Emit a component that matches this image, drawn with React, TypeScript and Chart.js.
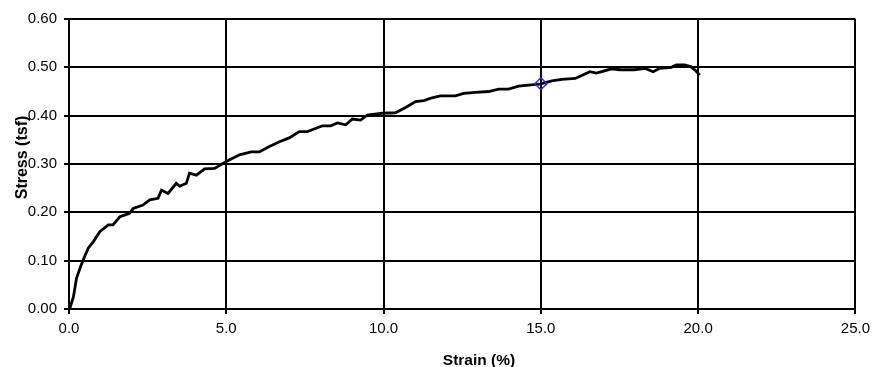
import React, { useEffect, useRef } from 'react';
import { Chart, registerables } from 'chart.js';

Chart.register(...registerables);

const FONT = '"Liberation Sans", Arial, Helvetica, sans-serif';

const strain = [
  0, 0.03, 0.14, 0.24, 0.37, 0.48, 0.61, 0.77, 0.98, 1.25, 1.4, 1.62, 1.93, 2.04, 2.35, 2.57,
  2.83, 2.94, 3.15, 3.41, 3.52, 3.73, 3.83, 4.05, 4.31, 4.63, 5.0, 5.42, 5.79, 6.05, 6.37, 6.69,
  7.0, 7.32, 7.58, 8.06, 8.32, 8.53, 8.8, 9.01, 9.27, 9.48, 9.96, 10.38, 10.7, 11.02, 11.28, 11.54,
  11.81, 12.28, 12.55, 12.92, 13.34, 13.66, 13.97, 14.29, 14.61, 15.0, 15.35, 15.66, 16.09, 16.3,
  16.56, 16.77, 17.25, 17.51, 17.99, 18.3, 18.57, 18.78, 19.15, 19.31, 19.57, 19.78, 19.94, 20.05,
];

const stress = [
  0, 0.002, 0.025, 0.064, 0.088, 0.106, 0.126, 0.139, 0.16, 0.174, 0.174, 0.191, 0.198, 0.208, 0.215, 0.226,
  0.229, 0.246, 0.239, 0.26, 0.254, 0.26, 0.281, 0.277, 0.29, 0.291, 0.305, 0.319, 0.325, 0.325, 0.336, 0.346,
  0.354, 0.367, 0.367, 0.379, 0.379, 0.385, 0.381, 0.393, 0.391, 0.401, 0.405, 0.406, 0.417, 0.429, 0.431, 0.437,
  0.441, 0.441, 0.446, 0.448, 0.45, 0.455, 0.455, 0.461, 0.463, 0.466, 0.472, 0.475, 0.477, 0.483,
  0.491, 0.488, 0.497, 0.495, 0.495, 0.498, 0.491, 0.498, 0.5, 0.505, 0.505, 0.501, 0.492, 0.484,
];

const markerStrain = [15.0];
const markerStress = [0.466];

const xTitle = 'Strain (%)';
const yTitle = 'Stress (tsf)';

const axisTitles = {
  id: 'axisTitles',
  afterDraw(chart: any) {
    const ctx = chart.ctx;
    ctx.save();
    ctx.fillStyle = '#000';
    ctx.textAlign = 'center';
    ctx.textBaseline = 'alphabetic';
    ctx.font = `bold 15.5px ${FONT}`;
    ctx.fillText(xTitle, 479, 365);
    ctx.translate(26.5, 157.5);
    ctx.rotate(-Math.PI / 2);
    ctx.font = `bold 16px ${FONT}`;
    ctx.fillText(yTitle, 0, 0);
    ctx.restore();
  },
};

export default function App() {
  const ref = useRef<HTMLCanvasElement>(null);

  useEffect(() => {
    if (!ref.current) return;
    const chart = new Chart(ref.current, {
      type: 'scatter',
      data: {
        datasets: [
          {
            data: markerStrain.map((x, i) => ({ x, y: markerStress[i] })),
            pointStyle: 'rectRot',
            pointRadius: 6,
            borderColor: '#2e2ed0',
            borderWidth: 1.5,
            backgroundColor: 'rgba(0,0,0,0)',
            showLine: false,
            order: 0,
          },
          {
            data: strain.map((x, i) => ({ x, y: stress[i] })),
            showLine: true,
            borderColor: '#000',
            borderWidth: 2.8,
            pointRadius: 0,
            tension: 0,
            fill: false,
            order: 1,
          },
        ],
      },
      options: {
        responsive: false,
        animation: false,
        layout: { padding: { left: 0, right: 18, top: 19, bottom: 0 } },
        plugins: { legend: { display: false }, tooltip: { enabled: false } },
        scales: {
          x: {
            type: 'linear',
            min: 0,
            max: 25,
            ticks: {
              stepSize: 5,
              callback: (v: any) => Number(v).toFixed(1),
              color: '#000',
              font: { family: FONT, size: 15 },
              padding: 6,
              maxRotation: 0,
            },
            grid: { color: '#000', lineWidth: 2, tickLength: 5 },
            border: { color: '#000', width: 2 },
            title: { display: false, text: xTitle },
            afterFit: (s: any) => {
              s.height = 58;
            },
          },
          y: {
            type: 'linear',
            min: 0,
            max: 0.6,
            ticks: {
              stepSize: 0.1,
              callback: (v: any) => Number(v).toFixed(2),
              color: '#000',
              font: { family: FONT, size: 15 },
              padding: 7,
            },
            grid: { color: '#000', lineWidth: 2, tickLength: 5 },
            border: { color: '#000', width: 2 },
            title: { display: false, text: yTitle },
            afterFit: (s: any) => {
              s.width = 69;
            },
          },
        },
      },
      plugins: [axisTitles],
    });
    return () => chart.destroy();
  }, []);

  return (
    <div style={{ position: 'fixed', left: 0, top: 0, width: 876, height: 367, background: '#fff' }}>
      <canvas ref={ref} width={876} height={367} style={{ display: 'block' }} />
    </div>
  );
}
